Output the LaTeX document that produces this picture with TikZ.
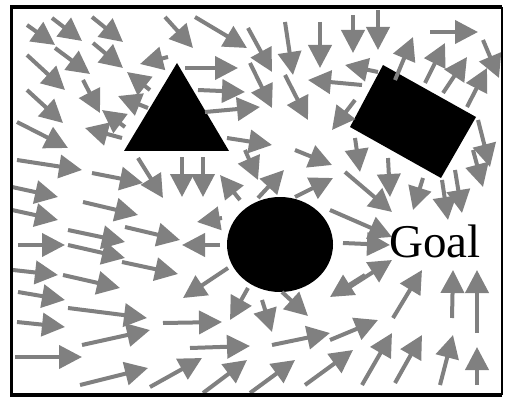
\documentclass[tikz,border=0pt]{standalone}
\usepackage{fontspec}
\setmainfont{Liberation Serif}
\usetikzlibrary{arrows.meta}
\begin{document}
\begin{tikzpicture}[x=1pt,y=-1pt,
  vec/.style={draw=gray, line width=4pt, -{Triangle[length=23pt,width=23pt]}},
  obstacle/.style={fill=black}]
\useasboundingbox (0,0) rectangle (505,398);
\fill[white] (0,0) rectangle (505,398);
% obstacles
\fill[obstacle] (124,151) -- (229,151) -- (177,63) -- cycle;
\fill[obstacle] (383,65) -- (476,117) -- (441,178) -- (350,127) -- cycle;
\fill[obstacle] (280,244.5) ellipse [x radius=53pt, y radius=47.5pt];
% vector field
\foreach \xa/\ya/\xb/\yb in {
 27/25/55/45, 52/18/82/41, 92/17/123/42, 27/55/65/90, 55/48/90/74, 93/43/123/68,
 168/57/140/64, 83/80/100/113, 27/90/63/123, 17/122/68/148,
 150/90/127/72, 148/108/118/96, 125/127/102/110, 122/138/85/128,
 165/17/193/48, 195/17/247/48, 248/28/272/72, 285/22/293/75, 320/22/320/68,
 185/68/238/68, 198/90/245/92, 250/63/272/108, 205/112/260/107, 285/75/308/120,
 362/85/308/80, 355/100/332/130,
 353/15/353/53, 378/10/378/50, 378/72/345/65, 395/80/413/37, 430/32/478/32,
 425/83/445/43, 443/93/467/57, 467/107/487/68, 483/40/499/78,
 478/120/490/167, 473/150/483/187, 455/170/462/213, 442/180/448/220,
 423/178/413/210, 388/158/390/197, 355/138/360/172, 345/172/392/212,
 330/210/392/237, 343/243/390/245,
 227/138/272/145, 295/150/332/165, 182/157/182/197, 203/157/203/197,
 245/150/258/180, 240/200/220/175, 258/198/284/170, 295/197/333/178,
 220/245/182/245, 222/218/197/222,
 17/160/82/170, 92/173/143/183, 138/158/163/198, 12/187/58/197, 12/210/58/220,
 83/202/138/215, 18/245/65/245, 68/230/125/242, 68/245/125/258, 125/227/180/240,
 13/270/58/275, 63/275/120/288, 122/262/178/274, 18/292/65/300, 68/308/147/318,
 17/322/65/327, 82/345/150/330, 15/357/82/357, 80/385/148/368, 150/387/202/358,
 163/323/222/322,
 228/268/183/298, 248/288/230/320, 262/300/272/332, 282/292/308/316,
 190/348/250/346, 272/345/330/333, 203/393/247/360, 250/393/295/360,
 305/385/353/350, 365/275/330/297, 345/290/392/260,
 330/340/378/320, 362/385/392/333, 395/383/422/335, 393/318/422/270,
 452/318/453/270, 477/333/477/270, 440/385/453/335, 477/385/477/347}
 \draw[vec] (\xa,\ya) -- (\xb,\yb);
% goal label
\node[anchor=base west, inner sep=0pt, font=\fontsize{47}{50}\selectfont] (goal) at (389,257) {Goal};
% frame
\draw[line width=3.5pt] (502,395) -- (11.5,395) -- (11.5,7) -- (502,7);
\draw[line width=1.5pt] (502,7) -- (502,395);
\end{tikzpicture}
\end{document}
